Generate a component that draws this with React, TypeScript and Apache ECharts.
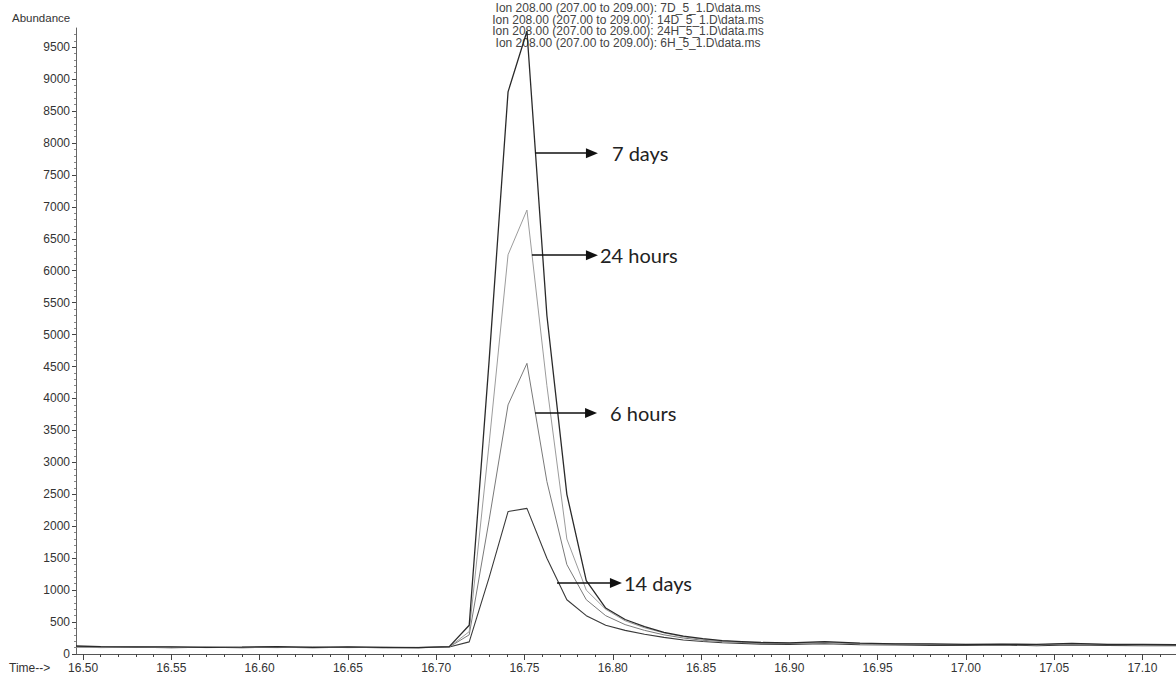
import React, { useEffect, useRef } from "react";
import * as echarts from "echarts";

// Retention time (min)
const times = [
  16.496, 16.51, 16.53, 16.55, 16.57, 16.59, 16.61, 16.63, 16.65, 16.67, 16.69,
  16.7074, 16.7187, 16.73, 16.7407, 16.7514, 16.7627, 16.774, 16.785, 16.796,
  16.807, 16.818, 16.829, 16.84, 16.851, 16.862, 16.873, 16.884, 16.9, 16.92,
  16.94, 16.96, 16.98, 17.0, 17.02, 17.04, 17.06, 17.08, 17.1, 17.119,
];

const abundance7D = [
  125, 115, 110, 112, 105, 108, 115, 105, 110, 105, 100,
  115, 450, 4600, 8800, 9750, 5300, 2500, 1150, 720,
  540, 430, 340, 280, 240, 210, 195, 180, 175, 195,
  170, 160, 160, 150, 155, 150, 165, 150, 150, 145,
];
const abundance14D = [
  115, 110, 105, 100, 105, 100, 105, 100, 105, 100, 100,
  110, 190, 1200, 2230, 2280, 1500, 850, 600, 450,
  370, 310, 260, 220, 195, 175, 165, 155, 150, 160,
  145, 140, 135, 135, 140, 130, 140, 135, 130, 130,
];
const abundance24H = [
  110, 105, 110, 100, 108, 105, 110, 100, 105, 100, 105,
  110, 350, 3300, 6250, 6950, 4200, 1800, 1000, 700,
  520, 410, 330, 270, 230, 205, 190, 175, 170, 185,
  165, 160, 150, 150, 150, 145, 160, 150, 145, 145,
];
const abundance6H = [
  110, 100, 105, 110, 100, 105, 100, 110, 100, 105, 100,
  110, 300, 2100, 3900, 4550, 2700, 1400, 850, 600,
  460, 370, 300, 250, 215, 195, 180, 170, 165, 180,
  160, 155, 150, 145, 150, 145, 155, 145, 140, 140,
];

const xTickValues = [16.5, 16.55, 16.6, 16.65, 16.7, 16.75, 16.8, 16.85, 16.9, 16.95, 17.0, 17.05, 17.1];
const yTickValues = [0, 500, 1000, 1500, 2000, 2500, 3000, 3500, 4000, 4500, 5000, 5500, 6000, 6500, 7000, 7500, 8000, 8500, 9000, 9500];

const legendLines = [
  "Ion 208.00 (207.00 to 209.00): 7D_5_1.D\\data.ms",
  "Ion 208.00 (207.00 to 209.00): 14D_5_1.D\\data.ms",
  "Ion 208.00 (207.00 to 209.00): 24H_5_1.D\\data.ms",
  "Ion 208.00 (207.00 to 209.00): 6H_5_1.D\\data.ms",
];

const arrowLabels = ["7 days", "24 hours", "6 hours", "14 days"];
const arrowStartTimes = [16.756, 16.7542, 16.756, 16.7684];
const arrowEndTimes = [16.7882, 16.7882, 16.7877, 16.8018];
const arrowLevels = [7840, 6244, 3771, 1111];
const arrowLabelGaps = [20, 8, 19, 8];

export default function App() {
  const ref = useRef<HTMLDivElement>(null);
  useEffect(() => {
    if (!ref.current) return;
    const chart = echarts.init(ref.current, undefined, { renderer: "svg" });
    const xMin = 16.496;
    const xMax = 17.119;
    const minorX: number[] = [];
    for (let i = 0; i < xTickValues.length; i++) {
      for (let k = 1; k < 5; k++) {
        const v = +(xTickValues[i] + k * 0.01).toFixed(3);
        if (v < xMax) minorX.push(v);
      }
    }

    const font = "Liberation Sans, Arial, sans-serif";
    const mk = (vals: number[]) => times.map((t, i) => [t, vals[i]]);

    const markData = arrowLabels.map((lab, i) => [
      {
        coord: [arrowStartTimes[i], arrowLevels[i]],
        name: lab,
        label: { distance: arrowLabelGaps[i] },
      },
      { coord: [arrowEndTimes[i], arrowLevels[i]] },
    ]);

    chart.setOption({
      animation: false,
      backgroundColor: "#ffffff",
      grid: { left: 76, right: 0, top: 28, bottom: 23, containLabel: false },
      xAxis: [
        {
          type: "value",
          min: xMin,
          max: xMax,
          axisLine: { show: true, lineStyle: { color: "#555", width: 1 } },
          axisTick: { show: true, customValues: xTickValues, length: 6, lineStyle: { color: "#444" } },
          axisLabel: {
            show: true,
            customValues: xTickValues,
            formatter: (v: number) => v.toFixed(2),
            color: "#333",
            fontSize: 12,
            fontFamily: font,
            margin: 8,
          },
          splitLine: { show: false },
        },
        {
          type: "value",
          min: xMin,
          max: xMax,
          position: "bottom",
          offset: 0,
          axisLine: { show: false },
          axisTick: { show: true, customValues: minorX, length: 3, lineStyle: { color: "#444" } },
          axisLabel: { show: true, customValues: minorX, formatter: () => "", fontSize: 1 },
          splitLine: { show: false },
        },
      ],
      yAxis: {
        type: "value",
        min: 0,
        max: 9800,
        interval: 500,
        axisLine: { show: true, lineStyle: { color: "#666", width: 1 } },
        axisTick: { show: true, customValues: yTickValues, length: 4, lineStyle: { color: "#444" } },
        minorTick: { show: true, splitNumber: 5, length: 2, lineStyle: { color: "#888" } },
        axisLabel: {
          show: true,
          customValues: yTickValues,
          formatter: (v: number) => String(v),
          color: "#333",
          fontSize: 12,
          fontFamily: font,
          margin: 6,
        },
        splitLine: { show: false },
      },
      series: [
        {
          name: "14D",
          type: "line",
          data: mk(abundance14D),
          showSymbol: false,
          lineStyle: { color: "#3a3a3a", width: 1.1 },
        },
        {
          name: "6H",
          type: "line",
          data: mk(abundance6H),
          showSymbol: false,
          lineStyle: { color: "#7a7a7a", width: 1 },
        },
        {
          name: "24H",
          type: "line",
          data: mk(abundance24H),
          showSymbol: false,
          lineStyle: { color: "#9c9c9c", width: 1 },
        },
        {
          name: "7D",
          type: "line",
          data: mk(abundance7D),
          showSymbol: false,
          lineStyle: { color: "#2a2a2a", width: 1.3 },
          markLine: {
            silent: true,
            symbol: ["none", "triangle"],
            symbolSize: [10, 12],
            symbolRotate: -90,
            itemStyle: { color: "#111" },
            lineStyle: { color: "#111", width: 1.6, type: "solid" },
            label: {
              show: true,
              position: "end",
              formatter: "{b}",
              color: "#222",
              fontSize: 20,
              fontFamily: "Lato, Open Sans, sans-serif",
            },
            data: markData,
          },
        },
      ],
      graphic: [
        {
          type: "text",
          left: 12,
          top: 12,
          style: { text: "Abundance", fill: "#333", font: `11.5px ${font}` },
        },
        {
          type: "text",
          left: 9,
          top: 662,
          style: { text: "Time-->", fill: "#333", font: `12px ${font}` },
        },
        ...legendLines.map((line, i) => ({
          type: "text",
          x: 628,
          y: 2 + i * 11.7,
          style: {
            text: line,
            fill: "#444",
            font: `12px ${font}`,
            textAlign: "center",
            textVerticalAlign: "top",
          },
        })),
      ],
    });
    return () => chart.dispose();
  }, []);
  return (
    <div
      ref={ref}
      style={{ position: "fixed", left: 0, top: 0, width: 1176, height: 677, background: "#fff" }}
    />
  );
}
